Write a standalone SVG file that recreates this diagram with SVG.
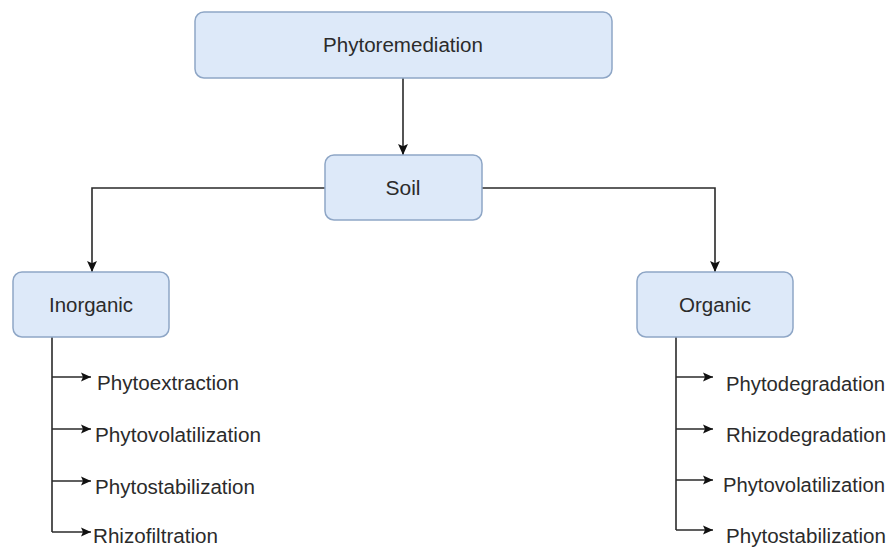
<svg xmlns="http://www.w3.org/2000/svg" width="892" height="547" viewBox="0 0 892 547">
<style>
.box{fill:#dde9f9;stroke:#8ea6c6;stroke-width:1.5}
.t{font-family:"Liberation Sans",Arial,sans-serif;font-size:20px;fill:#2b2b2b}
.c{text-anchor:middle}
.ln{fill:none;stroke:#2a2a2a;stroke-width:1.6}
</style>
<defs>
<marker id="ah" viewBox="0 0 10 10" refX="10" refY="5" markerWidth="10" markerHeight="10" markerUnits="userSpaceOnUse" orient="auto">
<path d="M0,0.5 L10,5 L0,9.5 L2,5 Z" fill="#111"/>
</marker>
<marker id="ah2" viewBox="0 0 10 10" refX="10" refY="5" markerWidth="11" markerHeight="11" markerUnits="userSpaceOnUse" orient="auto">
<path d="M0,0.5 L10,5 L0,9.5 L2,5 Z" fill="#111"/>
</marker>
</defs>
<rect width="892" height="547" fill="#fff"/>
<g id="connectors">
<path class="ln" d="M403,78 V155" marker-end="url(#ah2)"/>
<path class="ln" d="M325,188 H92 V272" marker-end="url(#ah2)"/>
<path class="ln" d="M482,188 H715 V272" marker-end="url(#ah2)"/>
<path class="ln" d="M52,337 V532"/>
<path class="ln" d="M52,377 H91" marker-end="url(#ah)"/>
<path class="ln" d="M52,429 H91" marker-end="url(#ah)"/>
<path class="ln" d="M52,481 H91" marker-end="url(#ah)"/>
<path class="ln" d="M52,532 H91" marker-end="url(#ah)"/>
<path class="ln" d="M676,337 V530"/>
<path class="ln" d="M676,377 H713" marker-end="url(#ah)"/>
<path class="ln" d="M676,429 H713" marker-end="url(#ah)"/>
<path class="ln" d="M676,480 H713" marker-end="url(#ah)"/>
<path class="ln" d="M676,530 H713" marker-end="url(#ah)"/>
</g>
<g id="phytoremediation">
<rect class="box" x="195" y="12" width="417" height="66" rx="9"/>
<text class="t c" x="403" y="52" textLength="160" lengthAdjust="spacingAndGlyphs">Phytoremediation</text>
</g>
<g id="soil">
<rect class="box" x="325" y="155" width="157" height="65" rx="9"/>
<text class="t c" x="403" y="195" textLength="35" lengthAdjust="spacingAndGlyphs">Soil</text>
</g>
<g id="inorganic">
<rect class="box" x="13" y="272" width="156" height="65" rx="9"/>
<text class="t c" x="91" y="312" textLength="84" lengthAdjust="spacingAndGlyphs">Inorganic</text>
</g>
<g id="organic">
<rect class="box" x="637" y="272" width="156" height="65" rx="9"/>
<text class="t c" x="715" y="312" textLength="72" lengthAdjust="spacingAndGlyphs">Organic</text>
</g>
<g id="inorganic-items">
<text class="t" x="97" y="390" textLength="142" lengthAdjust="spacingAndGlyphs">Phytoextraction</text>
<text class="t" x="95" y="442" textLength="166" lengthAdjust="spacingAndGlyphs">Phytovolatilization</text>
<text class="t" x="95" y="494" textLength="160" lengthAdjust="spacingAndGlyphs">Phytostabilization</text>
<text class="t" x="93" y="543" textLength="125" lengthAdjust="spacingAndGlyphs">Rhizofiltration</text>
</g>
<g id="organic-items">
<text class="t" x="726" y="391" textLength="159" lengthAdjust="spacingAndGlyphs">Phytodegradation</text>
<text class="t" x="726" y="442" textLength="160" lengthAdjust="spacingAndGlyphs">Rhizodegradation</text>
<text class="t" x="723" y="492" textLength="162" lengthAdjust="spacingAndGlyphs">Phytovolatilization</text>
<text class="t" x="726" y="543" textLength="160" lengthAdjust="spacingAndGlyphs">Phytostabilization</text>
</g>
</svg>
